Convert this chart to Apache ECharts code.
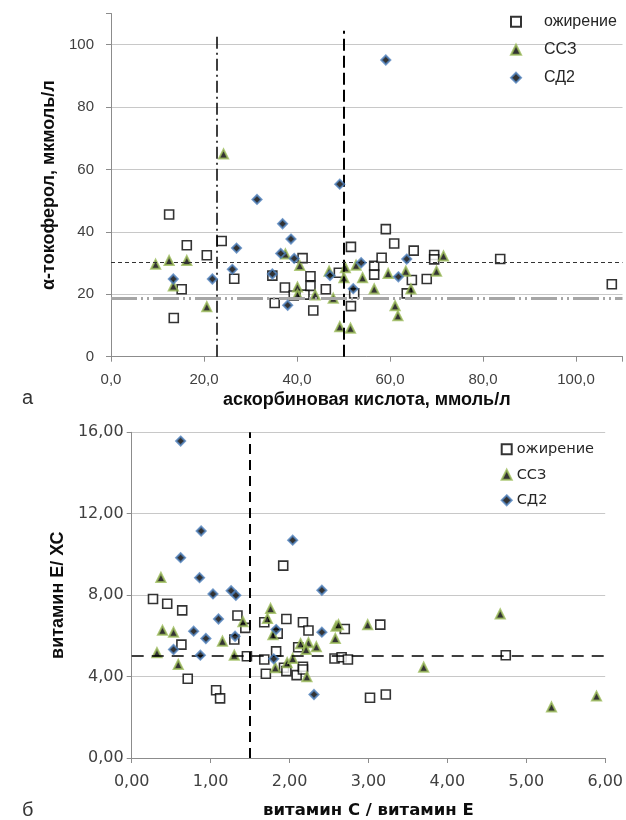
<!DOCTYPE html>
<html><head><meta charset="utf-8">
<script src="https://cdn.jsdelivr.net/npm/echarts@6/dist/echarts.min.js"></script>
<style>html,body{margin:0;padding:0;background:#fff}#c{width:626px;height:820px}</style>
</head><body><div id="c"></div>
<script>
// ---- Chart а: аскорбиновая кислота vs α-токоферол ----
const seriesNames = ['ожирение', 'ССЗ', 'СД2'];
const topObesity = [[12.5,45.6],[16.3,35.7],[20.6,32.5],[23.8,37.1],[26.5,25.0],[15.2,21.6],[13.5,12.4],[34.7,26.0],[37.4,22.2],[35.2,17.2],[39.3,19.6],[41.6,19.9],[41.2,31.6],[42.9,25.8],[42.9,22.7],[43.5,14.8],[46.2,21.6],[49.0,26.9],[51.6,35.2],[51.6,16.2],[52.3,20.3],[56.6,29.1],[56.6,26.3],[58.2,31.7],[59.1,40.9],[60.9,36.3],[63.6,20.3],[64.7,24.6],[65.1,34.0],[67.9,24.9],[69.5,32.6],[69.5,31.2],[83.7,31.3],[107.7,23.2]];
const topCVD = [[9.6,29.6],[12.5,30.8],[16.3,30.8],[13.4,22.7],[20.6,16.0],[24.2,65.0],[37.5,32.9],[40.6,29.2],[40.1,22.3],[40.1,19.9],[43.9,19.8],[46.9,27.4],[47.8,18.7],[49.2,9.6],[50.1,25.3],[50.4,28.5],[51.5,9.1],[52.7,29.3],[54.1,25.3],[56.6,21.7],[59.6,26.7],[61.1,16.3],[61.7,13.1],[63.4,27.4],[64.5,21.7],[70.0,27.4],[71.5,32.3]];
const topT2D = [[13.4,24.9],[21.8,24.9],[27.0,34.8],[26.1,28.0],[31.4,50.4],[36.9,42.6],[36.5,33.1],[34.7,26.5],[38.0,16.5],[38.7,37.7],[39.4,31.5],[47.1,26.0],[49.2,55.3],[53.8,30.1],[52.1,21.8],[59.1,95.1],[61.8,25.6],[63.6,31.3]];
const topRefX = [22.7, 50];      // vertical reference lines
const topRefXTop = [103, 104.5]; // their upper ends
const topRefY = [30.3, 18.7];    // horizontal reference lines

// ---- Chart б: витамин С / витамин Е vs витамин Е / ХС ----
const botObesity = [[0.27,7.81],[0.45,7.58],[0.64,7.25],[0.63,5.57],[0.71,3.89],[1.07,3.33],[1.12,2.93],[1.30,5.82],[1.34,7.00],[1.44,6.39],[1.46,5.00],[1.68,6.67],[1.68,4.84],[1.70,4.14],[1.83,5.24],[1.85,6.11],[1.92,9.45],[1.96,6.83],[1.93,4.43],[1.96,4.27],[2.09,4.07],[2.11,5.44],[2.17,6.67],[2.24,6.26],[2.17,4.48],[2.17,4.35],[2.57,4.89],[2.66,4.95],[2.74,4.84],[2.70,6.34],[3.15,6.55],[3.02,2.96],[3.22,3.12],[4.74,5.05]];
const botCVD = [[0.37,8.87],[0.39,6.27],[0.53,6.18],[0.32,5.17],[0.59,4.59],[1.15,5.74],[1.30,5.05],[1.41,6.69],[1.76,7.34],[1.72,6.85],[1.79,6.06],[1.82,4.43],[1.97,4.68],[2.04,4.89],[2.14,5.61],[2.24,5.66],[2.34,5.46],[2.21,5.33],[2.22,3.99],[2.58,5.87],[2.59,6.47],[2.62,6.55],[2.99,6.55],[3.70,4.46],[4.67,7.08],[5.32,2.50],[5.89,3.04]];
const botT2D = [[0.62,15.57],[0.88,11.15],[0.62,9.84],[0.86,8.86],[1.03,8.06],[1.26,8.22],[1.32,7.99],[2.04,10.70],[2.41,8.24],[1.10,6.83],[0.785,6.23],[0.94,5.87],[1.31,5.98],[0.53,5.33],[0.87,5.05],[1.83,6.31],[1.80,4.87],[2.41,6.18],[2.31,3.12]];
const botRefX = [1.5];
const botRefY = [5.0];

const topXTitle = 'аскорбиновая кислота, ммоль/л';
const topYTitle = 'α-токоферол, мкмоль/л';
const botXTitle = 'витамин С / витамин Е';
const botYTitle = 'витамин Е/ ХС';
const panelLabels = ['а', 'б'];

const FA = '"Liberation Sans", Arial, sans-serif';
const FB = '"DejaVu Sans", Verdana, sans-serif';
const GREEN = '#9BBB59', BLUE = '#4F81BD';

const styles = [
  {symbol: 'rect', symbolSize: 9, itemStyle: {color: '#fff', borderColor: '#000', borderWidth: 1.6}},
  {symbol: 'triangle', symbolSize: 9, itemStyle: {color: '#000', borderColor: GREEN, borderWidth: 2}},
  {symbol: 'diamond', symbolSize: 9, itemStyle: {color: '#000', borderColor: BLUE, borderWidth: 2}}
];

function sc(name, i, data, gi) {
  return Object.assign({type: 'scatter', name: name, xAxisIndex: gi, yAxisIndex: gi, data: data, z: 3 + i}, JSON.parse(JSON.stringify(styles[i])));
}
const c1 = v => v.toFixed(1).replace('.', ',');
const c2 = v => v.toFixed(2).replace('.', ',');

const axisLineGray = {lineStyle: {color: '#8C8C8C', width: 1}};
const gridGray = {lineStyle: {color: '#C8C8C8', width: 1.2}};

const chart = echarts.init(document.getElementById('c'));
chart.setOption({
  animation: false,
  backgroundColor: '#fff',
  grid: [
    {left: 111, top: 13.5, width: 511.5, height: 343.2},
    {left: 131.7, top: 432.3, width: 476.3, height: 326.4}
  ],
  xAxis: [
    {gridIndex: 0, type: 'value', min: 0, max: 110, interval: 20,
     axisLine: axisLineGray, axisTick: {show: true, length: 5, lineStyle: {color: '#8C8C8C'}},
     splitLine: {show: false},
     axisLabel: {margin: 16, fontFamily: FA, fontSize: 15, color: '#404040', formatter: v => v > 100 ? '' : c1(v)},
     name: topXTitle, nameLocation: 'middle', nameGap: 34,
     nameTextStyle: {fontFamily: FA, fontWeight: 'bold', fontSize: 18, color: '#0d0d0d'}},
    {gridIndex: 1, type: 'value', min: 0, max: 6, interval: 1,
     axisLine: axisLineGray, axisTick: {show: true, length: 5, lineStyle: {color: '#8C8C8C'}},
     splitLine: {show: false},
     axisLabel: {margin: 16, fontFamily: FB, fontSize: 16, color: '#404040', formatter: c2},
     name: botXTitle, nameLocation: 'middle', nameGap: 44,
     nameTextStyle: {fontFamily: FB, fontWeight: 'bold', fontSize: 16.5, color: '#0d0d0d'}}
  ],
  yAxis: [
    {gridIndex: 0, type: 'value', min: 0, max: 110, interval: 20,
     axisLine: {show: true, lineStyle: {color: '#8C8C8C', width: 1}}, axisTick: {show: true, length: 5, lineStyle: {color: '#8C8C8C'}},
     splitLine: Object.assign({show: true, showMaxLine: false}, gridGray),
     axisLabel: {margin: 17, fontFamily: FA, fontSize: 15, color: '#404040', formatter: v => v > 100 ? '' : String(v)},
     name: topYTitle, nameLocation: 'middle', nameGap: 51,
     nameTextStyle: {fontFamily: FA, fontWeight: 'bold', fontSize: 18, color: '#0d0d0d'}},
    {gridIndex: 1, type: 'value', min: 0, max: 16, interval: 4,
     axisLine: {show: true, lineStyle: {color: '#8C8C8C', width: 1}}, axisTick: {show: true, length: 5, lineStyle: {color: '#8C8C8C'}},
     splitLine: Object.assign({show: true}, gridGray),
     axisLabel: {margin: 8, fontFamily: FB, fontSize: 16, color: '#404040', formatter: c2},
     name: botYTitle, nameLocation: 'middle', nameGap: 62,
     nameTextStyle: {fontFamily: FA, fontWeight: 'bold', fontSize: 18, color: '#0d0d0d'}}
  ],
  legend: [
    {orient: 'vertical', left: 510, top: 13.7, padding: 0, itemGap: 12, itemWidth: 10, itemHeight: 10,
     data: seriesNames, selectedMode: false,
     textStyle: {fontFamily: FA, fontSize: 16, color: '#262626', lineHeight: 16, padding: [0, 0, 0, 18]}},
    {orient: 'vertical', left: 500.7, top: 441.3, padding: 0, itemGap: 9.5, itemWidth: 10, itemHeight: 10,
     data: seriesNames, selectedMode: false,
     textStyle: {fontFamily: FB, fontSize: 14.5, color: '#262626', lineHeight: 16}}
  ],
  graphic: [
    {type: 'text', left: 22, top: 388, style: {text: panelLabels[0], font: '20px ' + FA, fill: '#333'}},
    {type: 'text', left: 22, top: 800, style: {text: panelLabels[1], font: '20px ' + FA, fill: '#333'}}
  ],
  series: [
    {type: 'line', xAxisIndex: 0, yAxisIndex: 0, data: [], silent: true, z: 2,
     markLine: {silent: true, symbol: 'none', label: {show: false}, animation: false,
       data: [
         [{coord: [topRefX[0], 0], lineStyle: {color: '#000', width: 1.5, type: [12, 4, 2, 4]}}, {coord: [topRefX[0], topRefXTop[0]]}],
         [{coord: [topRefX[1], 0], lineStyle: {color: '#000', width: 2, type: [12, 5]}}, {coord: [topRefX[1], topRefXTop[1]]}],
         {yAxis: topRefY[0], lineStyle: {color: '#333', width: 1, type: [4, 3]}},
         {yAxis: topRefY[1], lineStyle: {color: '#A6A6A6', width: 3, type: [26, 4, 2, 4, 2, 4]}}
       ]}},
    {type: 'line', xAxisIndex: 1, yAxisIndex: 1, data: [], silent: true, z: 2,
     markLine: {silent: true, symbol: 'none', label: {show: false}, animation: false,
       data: [
         {xAxis: botRefX[0], lineStyle: {color: '#000', width: 2, type: [10, 6]}},
         {yAxis: botRefY[0], lineStyle: {color: '#000', width: 1.5, type: [12, 8]}}
       ]}},
    sc(seriesNames[0], 0, topObesity, 0),
    sc(seriesNames[1], 1, topCVD, 0),
    sc(seriesNames[2], 2, topT2D, 0),
    sc(seriesNames[0], 0, botObesity, 1),
    sc(seriesNames[1], 1, botCVD, 1),
    sc(seriesNames[2], 2, botT2D, 1)
  ]
});
</script></body></html>
